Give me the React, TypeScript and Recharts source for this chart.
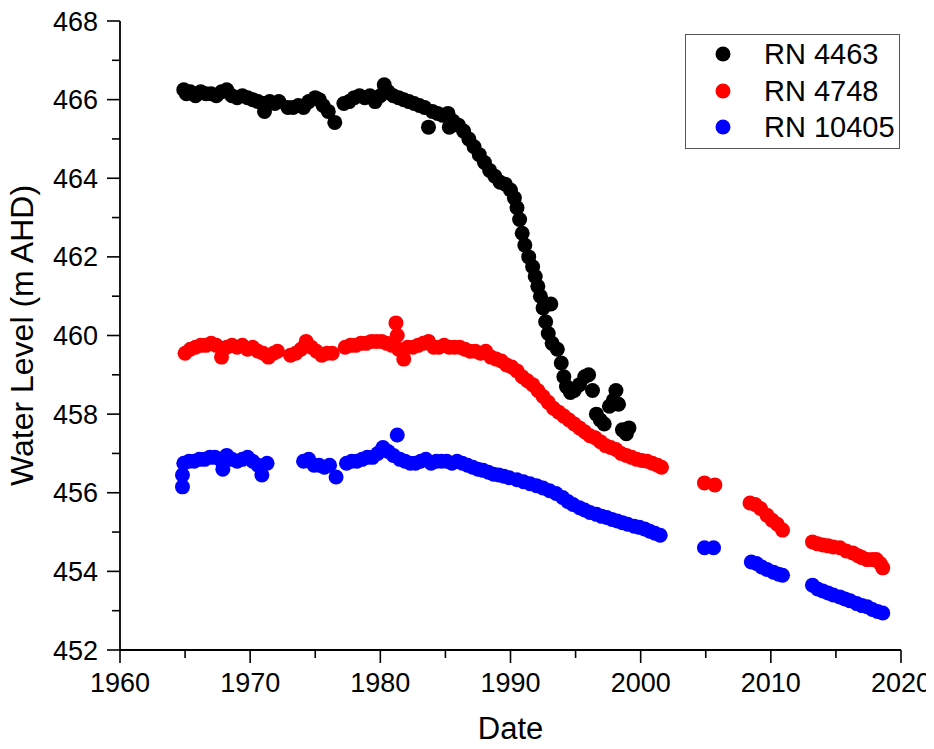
import React from 'react'
import { ScatterChart, Scatter, XAxis, YAxis, Label } from 'recharts'

// [year, water level (m AHD)]
const rn4463: [number, number][] = [
  [1964.9, 466.25], [1965.1, 466.15], [1965.4, 466.2], [1965.8, 466.1], [1966.2, 466.2], [1966.6, 466.15],
  [1967.0, 466.15], [1967.4, 466.1], [1967.8, 466.2], [1968.2, 466.25], [1968.6, 466.1], [1969.0, 466.05],
  [1969.4, 466.1], [1969.8, 466.05], [1970.2, 466.0], [1970.6, 465.95], [1971.0, 465.9], [1971.1, 465.7],
  [1971.5, 465.95], [1971.9, 465.9], [1972.2, 465.95],
  [1972.9, 465.8], [1973.3, 465.8], [1973.7, 465.85], [1974.1, 465.8], [1974.5, 465.95], [1975.0, 466.05],
  [1975.3, 466.0], [1975.6, 465.85], [1976.0, 465.7], [1976.5, 465.42],
  [1977.2, 465.9], [1977.6, 465.95], [1978.0, 466.05], [1978.4, 466.1], [1978.8, 466.05], [1979.2, 466.1],
  [1979.6, 465.95], [1980.0, 466.1], [1980.3, 466.38], [1980.6, 466.2], [1981.0, 466.1], [1981.4, 466.05],
  [1981.8, 466.0], [1982.2, 465.95], [1982.6, 465.9], [1983.0, 465.85], [1983.4, 465.8], [1983.7, 465.3],
  [1984.0, 465.7], [1984.4, 465.65], [1984.8, 465.6], [1985.2, 465.65], [1985.3, 465.3], [1985.6, 465.45],
  [1986.0, 465.35], [1986.4, 465.2], [1986.8, 465.0], [1987.2, 464.8], [1987.6, 464.6], [1988.0, 464.4],
  [1988.4, 464.2], [1988.8, 464.05], [1989.2, 463.9], [1989.6, 463.85], [1990.0, 463.7], [1990.3, 463.5],
  [1990.5, 463.25], [1990.7, 462.95], [1990.9, 462.6], [1991.1, 462.3], [1991.4, 462.0], [1991.7, 461.75],
  [1991.9, 461.5], [1992.1, 461.25], [1992.3, 461.0], [1992.5, 460.7], [1993.1, 460.8], [1992.7, 460.35],
  [1992.9, 460.05], [1993.2, 459.8], [1993.6, 459.65], [1993.9, 459.3], [1994.1, 458.95], [1994.3, 458.7],
  [1994.6, 458.55], [1994.9, 458.6], [1995.3, 458.75], [1995.7, 458.95], [1996.0, 459.0], [1996.3, 458.6],
  [1996.6, 458.0], [1996.9, 457.85], [1997.2, 457.75], [1997.6, 458.2], [1997.9, 458.35], [1998.1, 458.6],
  [1998.3, 458.25], [1998.6, 457.6], [1998.9, 457.5], [1999.1, 457.65],
]

const rn4748: [number, number][] = [
  [1965.0, 459.55], [1965.4, 459.65], [1965.8, 459.7], [1966.2, 459.75], [1966.6, 459.75], [1967.0, 459.8],
  [1967.4, 459.75], [1967.8, 459.45], [1968.2, 459.7], [1968.6, 459.75], [1969.0, 459.7], [1969.4, 459.75],
  [1969.8, 459.65], [1970.2, 459.7], [1970.6, 459.6], [1971.0, 459.55], [1971.4, 459.45], [1971.8, 459.55],
  [1972.1, 459.6],
  [1973.1, 459.5], [1973.5, 459.55], [1973.9, 459.65], [1974.3, 459.85], [1974.7, 459.7], [1975.1, 459.6],
  [1975.5, 459.5], [1975.9, 459.55], [1976.3, 459.55],
  [1977.3, 459.7], [1977.7, 459.75], [1978.1, 459.75], [1978.5, 459.8], [1978.9, 459.8], [1979.3, 459.85],
  [1979.7, 459.85], [1980.1, 459.85], [1980.5, 459.8], [1980.9, 459.75], [1981.2, 460.32], [1981.3, 460.0],
  [1981.4, 459.65], [1981.8, 459.4], [1982.1, 459.7], [1982.5, 459.7], [1982.9, 459.75], [1983.3, 459.8],
  [1983.7, 459.85], [1984.1, 459.7], [1984.5, 459.7], [1984.9, 459.75], [1985.3, 459.7], [1985.7, 459.7],
  [1986.1, 459.7], [1986.5, 459.65], [1986.9, 459.6], [1987.3, 459.6], [1987.7, 459.55], [1988.1, 459.6],
  [1988.5, 459.45], [1988.9, 459.4], [1989.3, 459.35], [1989.7, 459.25], [1990.1, 459.2], [1990.5, 459.1],
  [1990.9, 458.95], [1991.3, 458.85], [1991.7, 458.75], [1992.1, 458.6], [1992.5, 458.45], [1992.9, 458.3],
  [1993.3, 458.15], [1993.7, 458.05], [1994.1, 457.95], [1994.5, 457.85], [1994.9, 457.75], [1995.3, 457.65],
  [1995.7, 457.55], [1996.1, 457.45], [1996.5, 457.4], [1996.9, 457.3], [1997.3, 457.2], [1997.7, 457.15],
  [1998.1, 457.1], [1998.5, 457.0], [1998.9, 456.95], [1999.3, 456.9], [1999.7, 456.85], [2000.1, 456.82],
  [2000.5, 456.8], [2000.9, 456.75], [2001.3, 456.7], [2001.6, 456.65],
  [2004.9, 456.25], [2005.7, 456.2],
  [2008.4, 455.74], [2008.8, 455.7], [2009.2, 455.6], [2009.7, 455.43], [2010.1, 455.3], [2010.5, 455.2],
  [2010.9, 455.05],
  [2013.2, 454.75], [2013.6, 454.7], [2014.0, 454.67], [2014.4, 454.65], [2014.8, 454.62], [2015.3, 454.6],
  [2015.8, 454.52], [2016.3, 454.47], [2016.7, 454.4], [2017.0, 454.35], [2017.4, 454.3], [2017.8, 454.3],
  [2018.1, 454.3], [2018.4, 454.2], [2018.6, 454.09],
]

const rn10405: [number, number][] = [
  [1964.8, 456.15], [1964.8, 456.45], [1964.9, 456.75], [1965.3, 456.8], [1965.7, 456.8], [1966.1, 456.85],
  [1966.5, 456.85], [1966.9, 456.9], [1967.3, 456.9], [1967.7, 456.85], [1967.9, 456.6], [1968.2, 456.95],
  [1968.6, 456.85], [1969.0, 456.8], [1969.4, 456.85], [1969.8, 456.9], [1970.2, 456.8], [1970.6, 456.7],
  [1970.9, 456.45], [1971.3, 456.75],
  [1974.1, 456.8], [1974.5, 456.85], [1974.9, 456.7], [1975.3, 456.7], [1975.7, 456.65], [1976.1, 456.7],
  [1976.6, 456.4],
  [1977.4, 456.75], [1977.8, 456.8], [1978.2, 456.8], [1978.6, 456.85], [1979.0, 456.9], [1979.4, 456.9],
  [1979.8, 457.0], [1980.2, 457.15], [1980.6, 457.05], [1981.0, 456.95], [1981.3, 457.47], [1981.5, 456.85],
  [1981.9, 456.8], [1982.3, 456.75], [1982.7, 456.75], [1983.1, 456.8], [1983.5, 456.85], [1983.9, 456.75],
  [1984.3, 456.8], [1984.7, 456.8], [1985.1, 456.8], [1985.5, 456.75], [1985.9, 456.8], [1986.3, 456.75],
  [1986.7, 456.7], [1987.1, 456.65], [1987.5, 456.6], [1987.9, 456.57], [1988.3, 456.52], [1988.7, 456.47],
  [1989.1, 456.45], [1989.5, 456.42], [1989.9, 456.38], [1990.5, 456.33], [1991.0, 456.28], [1991.5, 456.23],
  [1992.0, 456.18], [1992.5, 456.12], [1993.0, 456.05], [1993.5, 455.98], [1994.0, 455.88], [1994.4, 455.78],
  [1994.8, 455.7], [1995.3, 455.62], [1995.7, 455.56], [1996.1, 455.5], [1996.6, 455.45], [1997.0, 455.4],
  [1997.4, 455.37], [1997.8, 455.32], [1998.2, 455.28], [1998.6, 455.24], [1999.0, 455.2], [1999.5, 455.15],
  [1999.9, 455.12], [2000.3, 455.08], [2000.7, 455.02], [2001.1, 454.97], [2001.5, 454.92],
  [2004.9, 454.6], [2005.6, 454.6],
  [2008.5, 454.24], [2008.9, 454.2], [2009.3, 454.11], [2009.7, 454.05], [2010.2, 453.98], [2010.6, 453.93],
  [2010.9, 453.9],
  [2013.2, 453.65], [2013.6, 453.55], [2014.0, 453.5], [2014.4, 453.45], [2014.8, 453.4], [2015.3, 453.35],
  [2015.7, 453.3], [2016.1, 453.25], [2016.6, 453.18], [2017.0, 453.13], [2017.4, 453.1], [2017.8, 453.03],
  [2018.2, 452.98], [2018.6, 452.94],
]

const seriesNames = ['RN 4463', 'RN 4748', 'RN 10405']
const seriesColors = ['#000000', '#ff0000', '#0000ff']

const xTicks = [1960, 1965, 1970, 1975, 1980, 1985, 1990, 1995, 2000, 2005, 2010, 2015, 2020]
const yTicks = [452, 453, 454, 455, 456, 457, 458, 459, 460, 461, 462, 463, 464, 465, 466, 467, 468]

const FONT = '"Liberation Sans", Arial, sans-serif'

const toPoints = (arr: [number, number][]) => arr.map(([x, y]) => ({ x, y }))

const dot = (color: string) => (props: any) => (
  <circle cx={props.cx} cy={props.cy} r={7.5} fill={color} />
)

const XTick = (props: any) => {
  const { x, y, payload } = props
  const major = payload.value % 10 === 0
  return (
    <g>
      <line x1={x} x2={x} y1={y} y2={y + (major ? 13 : 8)} stroke="#000" strokeWidth={1.6} />
      {major && (
        <text x={x} y={y + 42} textAnchor="middle" fontSize={27} fontFamily={FONT} fill="#000">
          {payload.value}
        </text>
      )}
    </g>
  )
}

const YTick = (props: any) => {
  const { x, y, payload } = props
  const major = payload.value % 2 === 0
  return (
    <g>
      <line x1={x} x2={x - (major ? 13 : 8)} y1={y} y2={y} stroke="#000" strokeWidth={1.6} />
      {major && (
        <text x={x - 22} y={y + 9.5} textAnchor="end" fontSize={27} fontFamily={FONT} fill="#000">
          {payload.value}
        </text>
      )}
    </g>
  )
}

function LegendBox() {
  return (
    <div
      style={{
        position: 'absolute',
        left: 685,
        top: 34,
        width: 213,
        height: 113,
        border: '1.5px solid #555',
        background: '#fff',
        fontFamily: FONT,
        fontSize: 29,
      }}
    >
      {seriesNames.map((name, i) => (
        <div
          key={name}
          style={{ position: 'absolute', left: 0, top: [2, 39, 75][i], height: 34, display: 'flex', alignItems: 'center' }}
        >
          <svg width={78} height={34}>
            <circle cx={37} cy={17} r={7.5} fill={seriesColors[i]} />
          </svg>
          <span style={{ lineHeight: '34px', color: '#000' }}>{name}</span>
        </div>
      ))}
    </div>
  )
}

export default function App() {
  const data = [rn4463, rn4748, rn10405]
  return (
    <div style={{ position: 'relative', margin: -8, width: 934, height: 749, overflow: 'hidden' }}>
      <ScatterChart width={934} height={749} margin={{ top: 21, right: 33, left: 0, bottom: 0 }}>
        <XAxis
          type="number"
          dataKey="x"
          domain={[1960, 2020]}
          ticks={xTicks}
          interval={0}
          height={99}
          tickSize={0}
          tickMargin={0}
          tick={<XTick />}
          axisLine={{ stroke: '#000', strokeWidth: 1.8 }}
          allowDataOverflow
        >
          <Label
            content={(p: any) => (
              <text
                x={p.viewBox.x + p.viewBox.width / 2}
                y={p.viewBox.y + 89}
                textAnchor="middle"
                fontSize={31}
                fontFamily={FONT}
                fill="#000"
              >
                Date
              </text>
            )}
          />
        </XAxis>
        <YAxis
          type="number"
          dataKey="y"
          domain={[452, 468]}
          ticks={yTicks}
          interval={0}
          width={120}
          tickSize={0}
          tickMargin={0}
          tick={<YTick />}
          axisLine={{ stroke: '#000', strokeWidth: 1.8 }}
          allowDataOverflow
        >
          <Label
            content={(p: any) => {
              const cx = p.viewBox.x + 22
              const cy = p.viewBox.y + p.viewBox.height / 2
              return (
                <text
                  x={cx}
                  y={cy}
                  transform={`rotate(-90 ${cx} ${cy})`}
                  textAnchor="middle"
                  dominantBaseline="central"
                  fontSize={32}
                  fontFamily={FONT}
                  fill="#000"
                >
                  Water Level (m AHD)
                </text>
              )
            }}
          />
        </YAxis>
        {data.map((arr, i) => (
          <Scatter
            key={seriesNames[i]}
            name={seriesNames[i]}
            data={toPoints(arr)}
            fill={seriesColors[i]}
            shape={dot(seriesColors[i])}
            isAnimationActive={false}
          />
        ))}
      </ScatterChart>
      <LegendBox />
    </div>
  )
}
